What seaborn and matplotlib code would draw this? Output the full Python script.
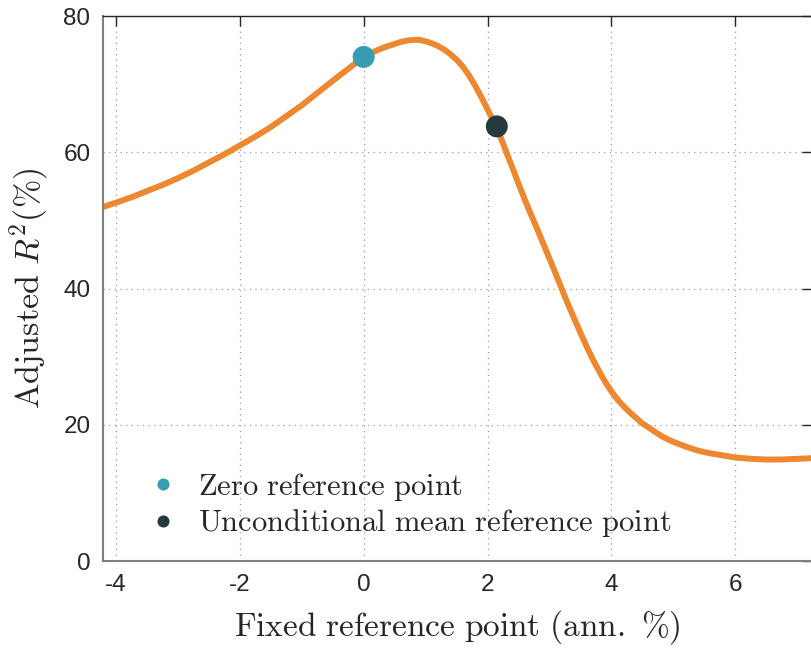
import matplotlib
matplotlib.use("Agg")
import matplotlib.pyplot as plt
import seaborn as sns
import pandas as pd

# Adjusted R^2 as a function of the fixed reference point
ref_point = [-4.2, -4.0, -3.75, -3.5, -3.25, -3.0, -2.75, -2.5, -2.25, -2.0,
             -1.75, -1.5, -1.25, -1.0, -0.75, -0.5, -0.4, -0.3, -0.2, -0.1,
             0.0, 0.1, 0.2, 0.3, 0.4, 0.5, 0.6, 0.7, 0.8, 0.9,
             1.0, 1.1, 1.2, 1.3, 1.4, 1.5, 1.6, 1.7, 1.8, 1.9,
             2.0, 2.1, 2.2, 2.3, 2.4, 2.5, 2.6, 2.7, 2.8, 2.9,
             3.0, 3.1, 3.2, 3.3, 3.4, 3.5, 3.6, 3.7, 3.8, 3.9,
             4.0, 4.1, 4.2, 4.3, 4.4, 4.5, 4.6, 4.7, 4.8, 4.9,
             5.0, 5.2, 5.4, 5.6, 5.8, 6.0, 6.25, 6.5, 6.75, 7.0, 7.25]
adj_r2 = [52.0, 52.6, 53.4, 54.3, 55.2, 56.2, 57.3, 58.5, 59.7, 61.0,
          62.3, 63.7, 65.3, 66.9, 68.7, 70.5, 71.2, 71.9, 72.6, 73.3,
          74.0, 74.5, 74.9, 75.3, 75.6, 75.9, 76.2, 76.4, 76.5, 76.5,
          76.3, 76.0, 75.6, 75.1, 74.4, 73.6, 72.6, 71.3, 69.8, 68.1,
          66.3, 64.5, 62.5, 60.1, 57.8, 55.4, 53.1, 50.9, 48.8, 46.6,
          44.4, 42.2, 39.9, 37.7, 35.6, 33.5, 31.5, 29.6, 27.9, 26.3,
          24.9, 23.7, 22.7, 21.8, 21.0, 20.2, 19.6, 19.0, 18.4, 17.9,
          17.5, 16.8, 16.2, 15.8, 15.5, 15.2, 15.0, 14.9, 14.9, 15.0, 15.1]

# Highlighted reference points
point_labels = ["Zero reference point", "Unconditional mean reference point"]
point_x = [0.0, 2.15]
point_y = [74.0, 63.8]
point_colors = ["#379DB1", "#243A3D"]

x_ticks = [-4, -2, 0, 2, 4, 6]
y_ticks = [0, 20, 40, 60, 80]

sns.set_style("white")
plt.rcParams["font.family"] = ["Liberation Sans", "DejaVu Sans"]
plt.rcParams["mathtext.fontset"] = "cm"

curve = pd.DataFrame({"x": ref_point, "y": adj_r2})
points = pd.DataFrame({"x": point_x, "y": point_y, "label": point_labels})

fig = plt.figure(figsize=(8.12, 6.55), dpi=100)
ax = fig.add_axes([0.1268, 0.1435, 0.8732, 0.832])

sns.lineplot(data=curve, x="x", y="y", ax=ax, color="#ED8830", linewidth=4.3,
             zorder=2, legend=False)
sns.scatterplot(data=points, x="x", y="y", hue="label", palette=point_colors,
                hue_order=point_labels, s=250, linewidth=0, ax=ax, zorder=3)

ax.set_xlim(-4.21, 7.24)
ax.set_ylim(0, 80)
ax.set_xticks(x_ticks)
ax.set_yticks(y_ticks)
ax.set_xticklabels([str(t) for t in x_ticks])
ax.set_yticklabels([str(t) for t in y_ticks])

ax.grid(True, linestyle=(0, (1, 3.5)), color="#9a9a9a", linewidth=0.9)
ax.set_axisbelow(True)
ax.tick_params(axis="both", direction="in", length=7, width=1.0,
               color="#262626", labelsize=17.5, labelcolor="#262626",
               top=True, right=True, pad=9)
for side in ["left", "bottom"]:
    ax.spines[side].set_color("#7f7f7f")
    ax.spines[side].set_linewidth(1.5)
for side in ["top", "right"]:
    ax.spines[side].set_color("#262626")
    ax.spines[side].set_linewidth(1.0)

ax.set_xlabel(r"$\mathrm{Fixed\ reference\ point\ (ann.\ \%)}$", fontsize=24,
              labelpad=9)
ax.set_ylabel(r"$\mathrm{Adjusted}\ R^2\mathrm{(\%)}$", fontsize=24.5, labelpad=9)

leg = ax.legend(loc="lower left", bbox_to_anchor=(0.055, 0.04), frameon=False,
                fontsize=22, markerscale=0.55, handlelength=1.4,
                handletextpad=0.45, labelspacing=0.15, borderpad=0,
                borderaxespad=0)
for txt in leg.get_texts():
    txt.set_text(r"$\mathrm{" + txt.get_text().replace(" ", r"\ ") + "}$")

fig.savefig("out.png", dpi=100)
